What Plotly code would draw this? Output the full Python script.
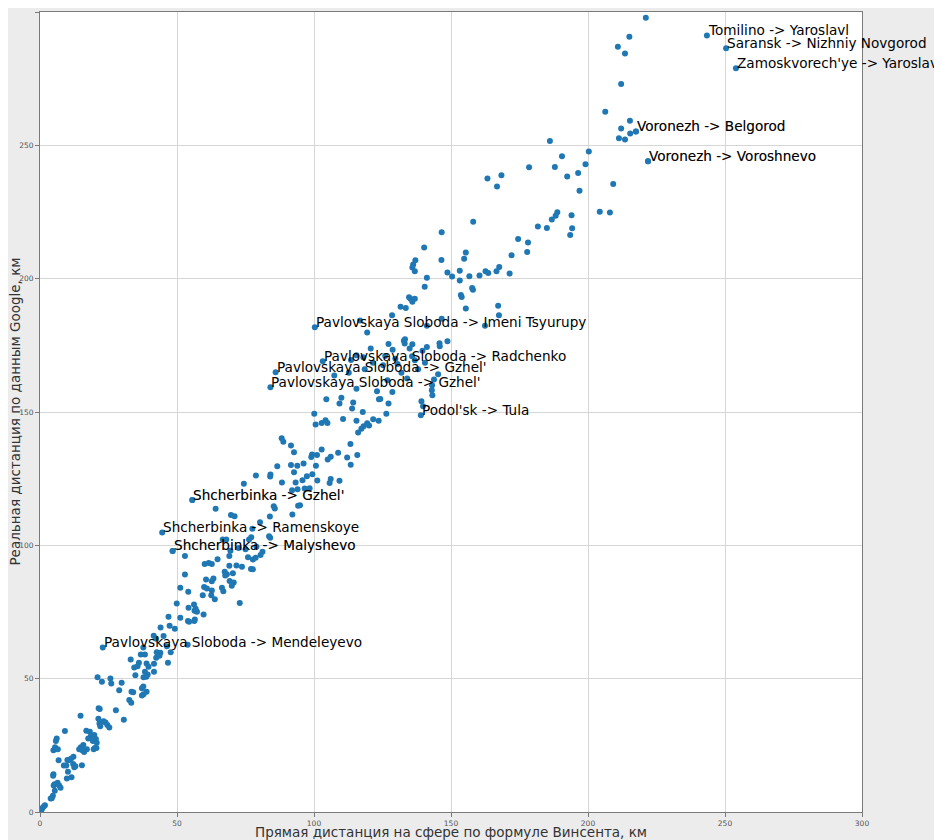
import plotly.graph_objects as go

# Scatter values (km): (distance by Vincenty formula, real Google distance), grouped by region
far_pairs = [
    (221.1, 297.8), (215.1, 290.7), (210.9, 287.0), (213.5, 284.4), (212.1, 273.0), (206.3, 262.6),
    (215.3, 259.2), (212.1, 256.3), (215.4, 254.4), (211.3, 252.7), (213.5, 252.2), (186.1, 251.6),
    (200.3, 247.7), (190.5, 245.9), (199.1, 242.9), (178.5, 241.8), (187.9, 241.9), (168.4, 238.8),
    (163.3, 237.6), (192.4, 238.3), (196.4, 239.6), (166.8, 234.6), (196.9, 233.0), (209.2, 235.5),
    (204.3, 225.1), (208.0, 224.8), (158.1, 221.3), (188.8, 224.9), (188.2, 223.6), (186.8, 222.2),
    (194.0, 223.8), (181.7, 219.6), (185.0, 219.0), (194.2, 218.9), (193.5, 216.4), (174.5, 214.9),
]

upper_pairs = [
    (146.6, 217.4), (178.1, 213.6), (177.8, 210.0), (140.2, 211.7), (155.4, 209.8), (154.8, 207.5),
    (172.1, 208.8), (137.0, 206.9), (136.2, 205.3), (135.9, 204.2), (136.8, 202.8), (146.5, 207.0),
    (148.7, 202.3), (150.4, 200.8), (153.2, 203.0), (153.2, 199.3), (156.7, 200.9), (160.4, 201.2),
    (162.6, 202.8), (163.6, 202.1), (166.6, 202.8), (167.6, 204.4), (171.4, 201.9), (141.2, 200.3),
    (140.4, 197.0), (157.7, 196.5), (158.0, 195.8), (153.6, 193.9), (153.9, 193.1), (134.7, 193.0),
    (135.3, 192.4), (136.8, 192.5), (135.9, 191.3), (131.6, 189.5), (133.5, 189.0), (155.4, 188.8),
    (167.2, 189.8), (167.5, 186.3), (128.5, 186.3), (146.6, 185.0), (116.8, 184.3), (119.4, 179.8),
    (141.2, 182.3), (133.2, 177.3), (162.4, 182.3),
]

mid_pairs = [
    (127.2, 175.5), (128.7, 173.3), (120.7, 173.8), (132.8, 176.7), (133.1, 175.7), (135.9, 175.4),
    (134.9, 173.8), (141.2, 174.4), (145.8, 175.8), (148.7, 176.5), (145.9, 174.7), (139.6, 173.0),
    (135.8, 170.9), (136.8, 169.4), (115.5, 171.3), (129.7, 170.0), (107.4, 163.7), (112.7, 164.7),
    (125.2, 167.5), (131.9, 164.7), (134.0, 162.6), (145.3, 164.2), (143.8, 162.2), (143.1, 160.0),
    (143.0, 158.2), (143.2, 156.3), (126.8, 161.9), (128.6, 157.5), (123.0, 157.8), (115.5, 158.7),
    (123.7, 154.8), (124.2, 154.9), (127.2, 153.2), (104.5, 154.8), (110.0, 155.3), (109.3, 153.2),
    (114.3, 153.6), (113.9, 151.3), (117.8, 150.0), (139.2, 154.0), (139.8, 152.2), (126.4, 149.3),
    (100.1, 149.3), (100.6, 145.3), (102.8, 145.9), (104.2, 146.9), (104.9, 145.9), (110.6, 147.4),
    (115.5, 146.7), (119.4, 145.8), (121.6, 147.3), (123.6, 146.7), (118.1, 144.7), (120.1, 144.9),
    (117.3, 143.7), (116.1, 142.3), (113.3, 138.0), (88.2, 140.2), (88.8, 138.8), (91.6, 137.4),
    (92.7, 134.9), (102.8, 135.9), (108.8, 134.7), (99.3, 134.1), (99.0, 133.1), (101.1, 133.9),
    (106.1, 133.2), (105.0, 132.2), (112.1, 132.9), (115.8, 133.9), (113.4, 130.2), (96.2, 130.7),
    (93.9, 129.8), (91.6, 130.1), (86.6, 129.7), (100.7, 129.8), (92.7, 127.4), (97.4, 125.9),
    (99.4, 126.7), (84.1, 126.6), (84.0, 125.8), (78.8, 126.2), (88.3, 123.6), (93.3, 123.6),
    (95.8, 124.4), (101.2, 124.3), (106.1, 124.9), (105.7, 123.4), (109.3, 124.2), (74.4, 123.1),
    (92.0, 120.7), (94.0, 121.0), (96.6, 121.3),
    (113.5, 169.5), (118.0, 170.5), (121.5, 168.5), (126.0, 171.0), (118.5, 166.0), (130.5, 168.0),
    (140.5, 168.5), (138.0, 166.0),
]

lower_mid_pairs = [
    (98.4, 121.4), (64.1, 113.7), (69.7, 111.4), (71.0, 110.9), (85.3, 114.7), (85.7, 113.8),
    (83.9, 110.8), (80.3, 108.7), (94.9, 115.0), (94.2, 114.8), (92.1, 111.6), (77.5, 106.2),
    (83.6, 103.4), (84.0, 102.8), (77.1, 103.0), (76.3, 102.2), (66.7, 102.2), (68.0, 102.2),
    (81.2, 97.6), (80.5, 96.4), (78.7, 95.3), (77.7, 94.7), (77.0, 91.1), (77.7, 91.0),
    (75.9, 95.5), (69.1, 96.0), (64.8, 94.8), (60.1, 93.0), (61.6, 93.4), (62.7, 93.0),
    (52.9, 96.0), (52.9, 89.1), (69.1, 92.3), (71.7, 92.4), (73.7, 92.0), (67.4, 90.1),
    (68.2, 89.2), (67.6, 88.7), (70.4, 89.5), (60.6, 87.2), (63.3, 87.6), (62.7, 86.5),
    (69.2, 86.6), (70.7, 86.1), (70.0, 84.8), (66.4, 84.1), (66.9, 82.8), (59.9, 84.4),
    (60.9, 83.8), (62.7, 83.1), (62.5, 81.3), (63.8, 79.8), (59.4, 81.3), (51.2, 84.1),
    (54.1, 82.6), (72.9, 78.4), (49.9, 78.2), (56.2, 77.8), (56.8, 76.2), (56.4, 75.5),
    (57.3, 75.1), (54.2, 76.6), (59.7, 74.1), (51.2, 72.8), (54.0, 71.6), (54.4, 71.3),
    (56.5, 72.2), (56.3, 71.6), (46.9, 73.2), (47.3, 69.8), (49.2, 68.7), (44.0, 69.2),
    (45.1, 66.0), (41.5, 66.1), (42.4, 65.0),
    (72.5, 99.0), (75.0, 98.5), (79.0, 99.5), (69.5, 98.0),
]

low_pairs = [
    (46.3, 62.2), (47.7, 59.9), (42.6, 59.9), (43.9, 59.7), (53.9, 62.7), (37.7, 61.7),
    (38.3, 59.1), (36.8, 59.1), (42.4, 57.8), (43.6, 58.6), (46.7, 56.0), (33.1, 57.2),
    (36.1, 56.0), (35.6, 54.7), (34.4, 54.2), (38.9, 55.7), (39.6, 54.5), (41.6, 55.6),
    (41.6, 52.6), (38.3, 52.6), (39.3, 51.6), (38.8, 50.7), (37.8, 50.5), (34.8, 51.3),
    (21.0, 50.5), (22.6, 48.8), (25.7, 50.1), (26.0, 48.2), (29.8, 48.5), (28.9, 45.7),
    (33.4, 45.1), (34.0, 44.9), (37.7, 47.1), (37.2, 46.4), (37.8, 44.2), (38.9, 45.1),
    (32.6, 42.0), (33.3, 41.0), (37.2, 43.7), (27.7, 38.2), (30.6, 34.6), (14.8, 36.1),
    (21.4, 38.9), (21.8, 38.6), (21.3, 35.0), (21.7, 33.2), (23.2, 34.0), (23.9, 33.6),
    (24.6, 32.6), (25.3, 31.7), (22.0, 32.2), (16.9, 30.5), (18.2, 30.1), (18.6, 28.5),
    (17.6, 27.6), (19.8, 28.9), (20.4, 27.4), (19.3, 26.6), (20.7, 26.0), (20.0, 24.0),
    (20.6, 24.0), (19.6, 23.5), (15.8, 25.1), (14.9, 24.3), (14.3, 23.5), (15.4, 23.2),
    (16.1, 22.5), (17.1, 23.5), (9.1, 30.4), (6.1, 27.6), (5.8, 26.6), (5.5, 24.3),
    (4.9, 23.2), (6.5, 23.5), (12.2, 20.7), (11.3, 20.0), (10.7, 19.5), (10.0, 19.5),
    (6.8, 19.4), (8.7, 17.4), (9.6, 17.4), (12.1, 18.0), (12.5, 16.8), (12.9, 17.2),
    (15.3, 17.5), (10.2, 15.1), (9.8, 12.6), (11.5, 13.0), (4.9, 14.2), (4.8, 13.6),
    (5.3, 10.4), (5.0, 9.9), (6.4, 11.0), (7.0, 9.9), (7.5, 9.1), (5.4, 8.0),
    (4.7, 6.1), (4.3, 5.2), (3.9, 5.1), (1.8, 2.5), (1.3, 2.0), (0.8, 1.4),
    (0.5, 0.7), (0.1, 0.3),
]

# Labelled routes (some routes appear twice in the data)
label_text = [
    "Tomilino -> Yaroslavl", "Saransk -> Nizhniy Novgorod", "Zamoskvorech'ye -> Yaroslavl",
    "Voronezh -> Belgorod", "Voronezh -> Belgorod", "Voronezh -> Voroshnevo", "Voronezh -> Voroshnevo",
    "Pavlovskaya Sloboda -> Imeni Tsyurupy", "Pavlovskaya Sloboda -> Radchenko",
    "Pavlovskaya Sloboda -> Gzhel'", "Pavlovskaya Sloboda -> Gzhel'", "Podol'sk -> Tula",
    "Shcherbinka -> Gzhel'", "Shcherbinka -> Gzhel'", "Shcherbinka -> Ramenskoye",
    "Shcherbinka -> Malyshevo", "Shcherbinka -> Malyshevo", "Pavlovskaya Sloboda -> Mendeleyevo",
]
label_x = [243.4, 250.4, 254.0, 217.5, 217.5, 221.9, 221.9, 100.3, 103.2, 86.0, 84.1, 139.0,
           55.6, 55.6, 44.6, 48.4, 48.4, 22.9]
label_y = [291.2, 286.4, 278.9, 255.2, 255.2, 244.0, 244.0, 181.8, 169.0, 164.9, 159.3, 148.8,
           117.0, 117.0, 104.8, 97.9, 97.9, 61.7]

tick_vals = [0, 50, 100, 150, 200, 250, 300]
x_title = "Прямая дистанция на сфере по формуле Винсента, км"
y_title = "Реальная дистанция по данным Google, км"

groups = [far_pairs, upper_pairs, mid_pairs, lower_mid_pairs, low_pairs]
xs = [p[0] for g in groups for p in g] + label_x
ys = [p[1] for g in groups for p in g] + label_y

FONT = "DejaVu Sans"

fig = go.Figure()
fig.add_trace(go.Scatter(
    x=xs, y=ys, mode="markers",
    marker=dict(size=6, color="#1f77b4", line=dict(width=0)),
    hoverinfo="skip", showlegend=False,
))

annotations = []
seen = set()
for t, lx, ly in zip(label_text, label_x, label_y):
    key = (t, lx, ly)
    dup = key in seen
    seen.add(key)
    annotations.append(dict(
        x=lx, y=ly, xref="x", yref="y", text=t, showarrow=False,
        xanchor="left", yanchor="bottom", yshift=-4.5, xshift=-1,
        font=dict(family=FONT, size=13.6, color="#000000"),
        opacity=0.35 if dup else 1.0,
    ))

annotations.append(dict(
    x=0.5, y=-0.025, xref="paper", yref="paper", text=x_title, showarrow=False,
    xanchor="center", yanchor="middle",
    font=dict(family=FONT, size=13.5, color="#333333"),
))
annotations.append(dict(
    x=-0.031, y=0.5, xref="paper", yref="paper", text=y_title, showarrow=False,
    xanchor="center", yanchor="middle", textangle=-90,
    font=dict(family=FONT, size=13.5, color="#333333"),
))

axis_common = dict(
    range=[0, 300], tickvals=tick_vals, showgrid=True, gridcolor="#d6d6d6", gridwidth=1,
    zeroline=False, showline=True, linecolor="#7a7a7a", linewidth=1, mirror=True,
    ticks="outside", ticklen=4, tickcolor="#7a7a7a", automargin=False,
    tickfont=dict(family=FONT, size=7.5, color="#555555"),
)

# The page body adds an 8px offset, so the figure is 8px smaller on each axis
fig.update_layout(
    width=934, height=832,
    margin=dict(l=32, r=80, t=4, b=28),
    paper_bgcolor="#ececec", plot_bgcolor="#ffffff",
    xaxis=axis_common, yaxis=axis_common,
    annotations=annotations,
    font=dict(family=FONT),
)

fig.write_html("out.html", config={"displayModeBar": False})
